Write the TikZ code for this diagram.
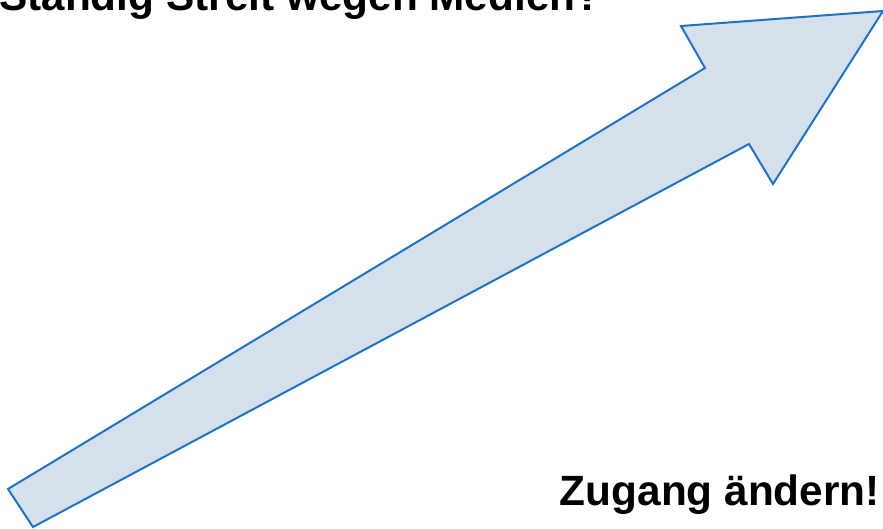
\documentclass[tikz,border=0pt]{standalone}
\usepackage{fontspec}
\setmainfont{Liberation Sans}
\definecolor{arrowfill}{RGB}{214,223,236}
\definecolor{arrowline}{RGB}{31,114,189}
\begin{document}
\begin{tikzpicture}[x=1bp,y=-1bp,
  lbl/.style={font=\fontsize{42.5}{46}\selectfont\bfseries, inner sep=0pt, text=black}]
\useasboundingbox (0,0) rectangle (883,529);
\draw[arrowline, fill=arrowfill, line width=2bp, line join=miter]
  (8,489) -- (705,68) -- (681,26) -- (883,11) -- (773,184) -- (749,144) -- (33,527) -- cycle;
\node[lbl, anchor=base west] (top) at (-1,10.7) {Ständig Streit wegen Medien?};
\node[lbl, anchor=base east] (bottom) at (880,505.7) {Zugang ändern!};
\end{tikzpicture}
\end{document}
